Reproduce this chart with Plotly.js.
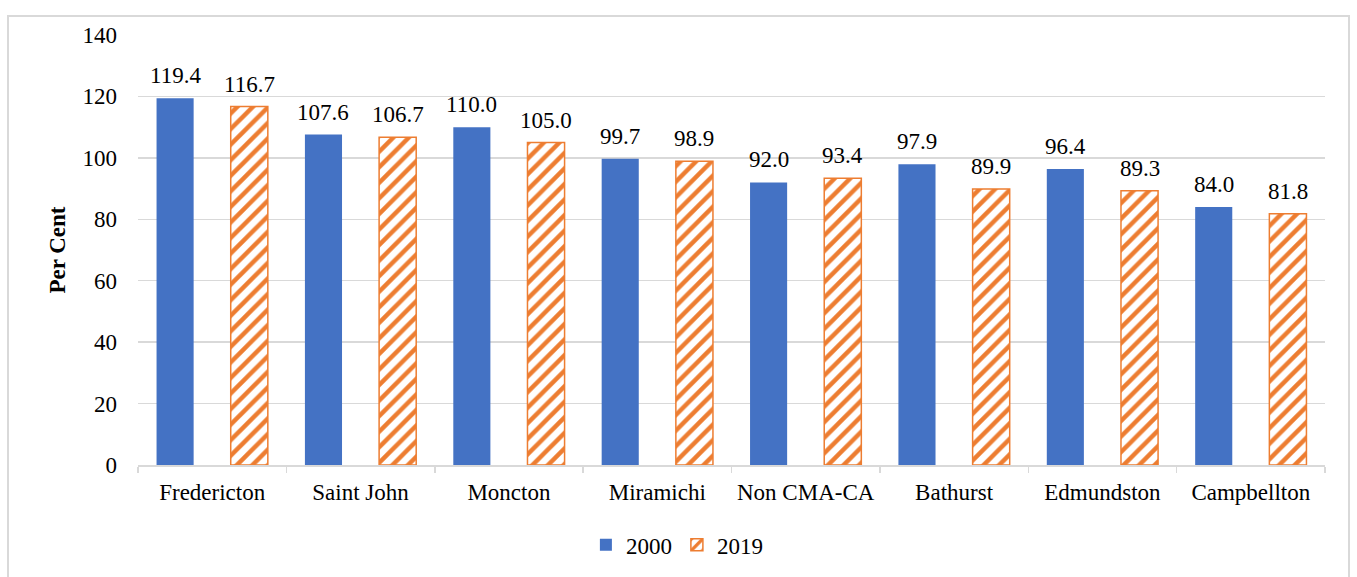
<!DOCTYPE html>
<html>
<head>
<meta charset="utf-8">
<script src="https://cdn.plot.ly/plotly-3.0.1.min.js"></script>
<style>
  html, body { margin: 0; padding: 0; background: #fff; }
  #chart { width: 1357px; height: 577px; }
  #frame { position: absolute; left: 7px; top: 15px; width: 1343px; height: 600px;
           border: 2px solid #d9d9d9; pointer-events: none; box-sizing: border-box; }
</style>
</head>
<body>
<div id="chart"></div>
<div id="frame"></div>
<script>
const categories = ["Fredericton", "Saint John", "Moncton", "Miramichi", "Non CMA-CA", "Bathurst", "Edmundston", "Campbellton"];
const values2000 = [119.4, 107.6, 110.0, 99.7, 92.0, 97.9, 96.4, 84.0];
const values2019 = [116.7, 106.7, 105.0, 98.9, 93.4, 89.9, 89.3, 81.8];
const seriesNames = ["2000", "2019"];
const yTicks = [0, 20, 40, 60, 80, 100, 120, 140];

const FONT = "Liberation Serif, Times New Roman, serif";
const FS = 23;
const BLUE = "#4472C4";
const ORANGE = "#ED7D31";

const traces = [
  {
    type: "bar", name: seriesNames[0], x: categories, y: values2000,
    marker: { color: BLUE },
    hoverinfo: "x+y"
  },
  {
    type: "bar", name: seriesNames[1], x: categories, y: values2019,
    marker: {
      color: "#ffffff",
      line: { color: ORANGE, width: 1.5 },
      pattern: { shape: "/", fgcolor: ORANGE, bgcolor: "#ffffff", size: 11, solidity: 0.4 }
    },
    hoverinfo: "x+y"
  }
];

const PLOT_W = 1357 - 138 - 32;
const slotShift = PLOT_W / categories.length / 4;

function labels(vals, shift) {
  return vals.map((v, i) => ({
    x: categories[i], y: v, xref: "x", yref: "y",
    text: v.toFixed(1), showarrow: false,
    xshift: shift, yshift: 8, yanchor: "bottom", xanchor: "center",
    font: { family: FONT, size: FS, color: "#000" }
  }));
}

const layout = {
  width: 1357, height: 577,
  margin: { l: 138, r: 32, t: 35, b: 111 },
  paper_bgcolor: "#ffffff", plot_bgcolor: "#ffffff",
  barmode: "group", bargap: 0, bargroupgap: 0.5,
  font: { family: FONT, size: FS, color: "#000" },
  showlegend: true,
  legend: {
    orientation: "h", x: 0.454, xanchor: "center", y: -0.183, yanchor: "middle",
    font: { family: FONT, size: FS, color: "#000" }, itemwidth: 30, tracegroupgap: 0
  },
  annotations: labels(values2000, -slotShift).concat(labels(values2019, slotShift)),
  xaxis: {
    type: "category",
    showline: true, linecolor: "#d9d9d9", linewidth: 1.5,
    ticks: "outside", tickson: "boundaries", ticklen: 6, tickcolor: "#d9d9d9", tickwidth: 1.5,
    ticklabelstandoff: 6,
    tickfont: { family: FONT, size: FS, color: "#000" },
    showgrid: false, zeroline: false
  },
  yaxis: {
    range: [0, 140], tickvals: yTicks, ticktext: yTicks.map(String),
    showgrid: true, gridcolor: "#d9d9d9", gridwidth: 1.5,
    zeroline: false, showline: false, ticks: "",
    ticklabelstandoff: 20,
    tickfont: { family: FONT, size: FS, color: "#000" },
    title: { text: "<b>Per Cent</b>", font: { family: FONT, size: FS, color: "#000" }, standoff: 10 }
  }
};

Plotly.newPlot("chart", traces, layout, { displayModeBar: false, staticPlot: true });
</script>
</body>
</html>
